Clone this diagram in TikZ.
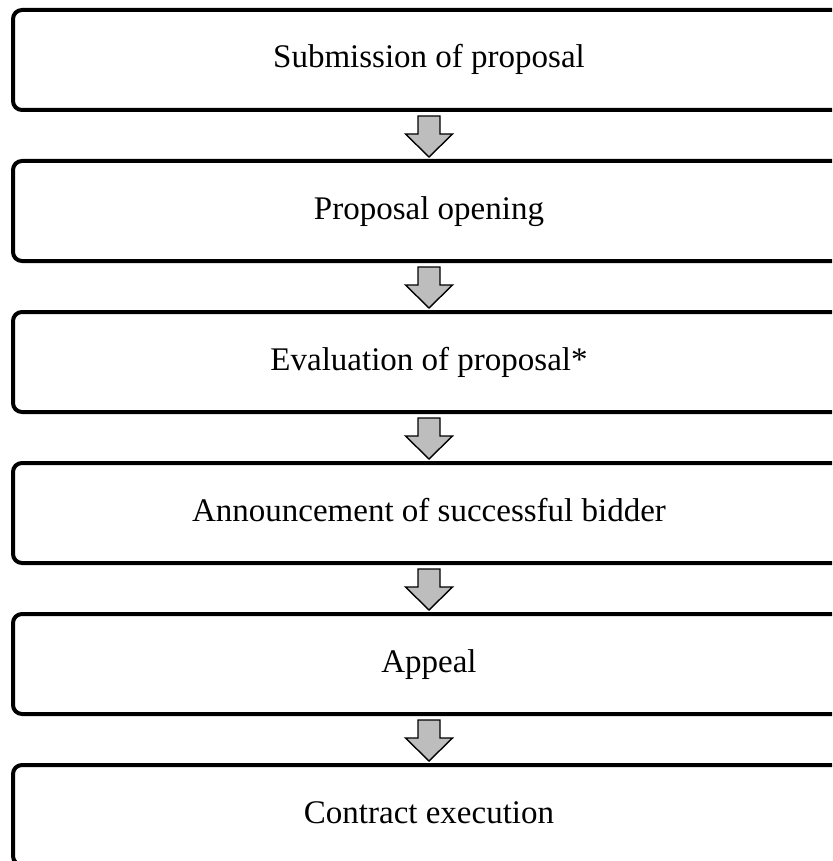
\documentclass[tikz,border=0pt]{standalone}
\usepackage{fontspec}
\setmainfont{Liberation Serif}
\usepackage{xcolor}
\usetikzlibrary{positioning,calc}
\definecolor{arrowfill}{HTML}{BDBDBD}
\tikzset{
  stage/.style={draw=black, line width=4pt, rounded corners=9pt, outer sep=0pt,
    minimum width=832pt, minimum height=100pt, inner sep=0pt,
    font=\fontsize{33}{40}\selectfont, text height=23pt, text depth=7pt},
  downarrow/.style={draw=black, line width=1.4pt, fill=arrowfill, line join=miter}
}

\begin{document}
\begin{tikzpicture}[x=1pt,y=-1pt]
  \useasboundingbox (0,0) rectangle (832,861);
  \clip (0,0) rectangle (832,861);

  \node[stage] (s1) at (429,60) {Submission of proposal};
  \node[stage, below=51pt of s1] (s2) {Proposal opening};
  \node[stage, below=51pt of s2] (s3) {Evaluation of proposal*};
  \node[stage, below=51pt of s3] (s4) {Announcement of successful bidder};
  \node[stage, below=51pt of s4] (s5) {Appeal};
  \node[stage, below=51pt of s5] (s6) {Contract execution};

  % block arrows between the stages
  \foreach \a/\b in {s1/s2,s2/s3,s3/s4,s4/s5,s5/s6} {
    \coordinate (top) at ($(\a.south)+(0,6)$);
    \coordinate (tip) at ($(\b.north)+(0,-4)$);
    \draw[downarrow] ($(top)+(-11,0)$) -- ($(top)+(11,0)$) -- ($(tip)+(11,-23)$)
      -- ($(tip)+(23.5,-23)$) -- (tip) -- ($(tip)+(-23.5,-23)$)
      -- ($(tip)+(-11,-23)$) -- cycle;
  }
\end{tikzpicture}
\end{document}
